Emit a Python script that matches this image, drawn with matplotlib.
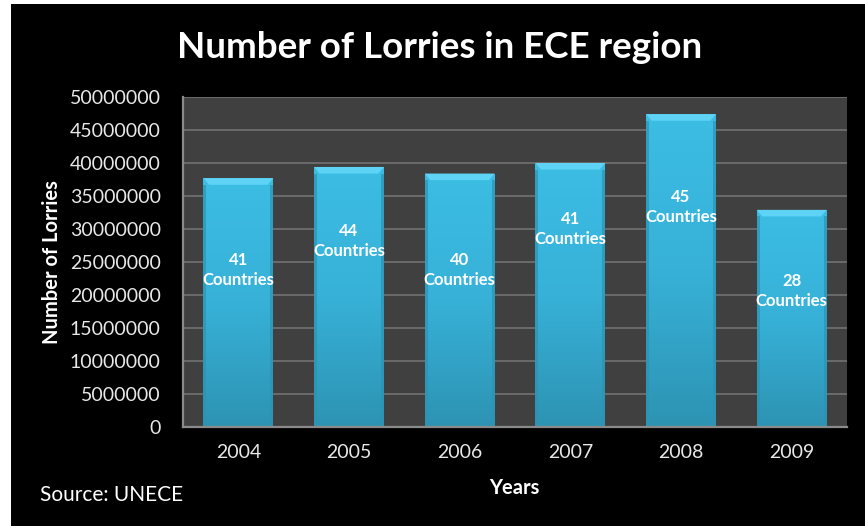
import matplotlib
matplotlib.use("Agg")
import matplotlib.pyplot as plt
import numpy as np
from matplotlib.patches import Rectangle, Polygon

years = ["2004", "2005", "2006", "2007", "2008", "2009"]
lorries = [37700000, 39400000, 38400000, 40000000, 47400000, 32900000]
countries = [41, 44, 40, 41, 45, 28]
label_y = [23800000, 28200000, 23800000, 30000000, 33300000, 20600000]
yticks = list(range(0, 50000001, 5000000))

plt.rcParams["font.family"] = ["Lato", "DejaVu Sans"]

W, H = 865, 526
fig = plt.figure(figsize=(W / 100, H / 100), dpi=100, facecolor="white")
# black slide background with thin white margin at left and top
fig.patches.append(Rectangle((11 / W, 0), 1 - 11 / W, 1 - 4 / H,
                             transform=fig.transFigure, facecolor="black",
                             edgecolor="none", zorder=-10))

left, right, bottom, top = 183, 847, 427, 97
ax = fig.add_axes([left / W, 1 - bottom / H, (right - left) / W, (bottom - top) / H])
ax.set_facecolor("#404040")

x = np.arange(len(years))
width = 0.63
ax.set_xlim(-0.5, len(years) - 0.5)
ax.set_ylim(0, 50000000)
ax.set_yticks(yticks)
ax.set_yticklabels([str(v) for v in yticks])
ax.yaxis.grid(True, color="#6e6e6e", linewidth=1.3)
ax.set_axisbelow(True)

bars = ax.bar(x, lorries, width=width, color="#36b1d8", edgecolor="none", zorder=2)

# vertical shading inside each bar plus a bevelled top edge
grad = np.linspace(0, 1, 256).reshape(-1, 1)
cmap = matplotlib.colors.LinearSegmentedColormap.from_list(
    "barshade", ["#2d93b3", "#37b1d8", "#3cbde4"])
for b in bars:
    x0, w, h = b.get_x(), b.get_width(), b.get_height()
    im = ax.imshow(grad, cmap=cmap, aspect="auto", origin="lower",
                   extent=[x0, x0 + w, 0, h], zorder=2.1)
    im.set_clip_path(b)
    bev_h = 1000000
    bev_w = 0.05
    ax.add_patch(Polygon([[x0, h], [x0 + w, h], [x0 + w - bev_w, h - bev_h],
                          [x0 + bev_w, h - bev_h]], closed=True,
                         facecolor="#5fd3f5", edgecolor="none", zorder=2.2))
    ax.add_patch(Rectangle((x0, 0), bev_w * 0.5, h - bev_h, facecolor="#2c93b4",
                           edgecolor="none", zorder=2.2, alpha=0.7))
    ax.add_patch(Rectangle((x0 + w - bev_w * 0.5, 0), bev_w * 0.5, h - bev_h,
                           facecolor="#2c93b4", edgecolor="none", zorder=2.2, alpha=0.7))

for xi, n, ly in zip(x, countries, label_y):
    ax.text(xi, ly, f"{n}\nCountries", ha="center", va="center", color="white",
            fontsize=12, fontweight="bold", linespacing=1.35, zorder=3)

ax.set_xticks(x)
ax.set_xticklabels(years)
ax.tick_params(axis="both", colors="#e8e8e8", labelsize=14, length=0)
ax.tick_params(axis="x", pad=12)
ax.tick_params(axis="y", pad=16)
for side in ["top", "right"]:
    ax.spines[side].set_visible(False)
for side in ["left", "bottom"]:
    ax.spines[side].set_color("#8a8a8a")
    ax.spines[side].set_linewidth(1.6)

ax.set_xlabel("Years", color="white", fontsize=14.5, fontweight="bold")
ax.xaxis.label.set_va("center")
ax.xaxis.set_label_coords((514 - left) / (right - left), (bottom - 488) / (bottom - top))
ax.set_ylabel("Number of Lorries", color="white", fontsize=14.5, fontweight="bold")
ax.yaxis.label.set_va("center")
ax.yaxis.set_label_coords((52 - left) / (right - left), (bottom - 262) / (bottom - top))

fig.text(440 / W, 1 - 47 / H, "Number of Lorries in ECE region", color="white",
         fontsize=26.5, fontweight="bold", ha="center", va="center")
fig.text(40 / W, 1 - 495 / H, "Source: UNECE", color="white", fontsize=15,
         ha="left", va="center")

fig.savefig("out.png", dpi=100, facecolor=fig.get_facecolor())
